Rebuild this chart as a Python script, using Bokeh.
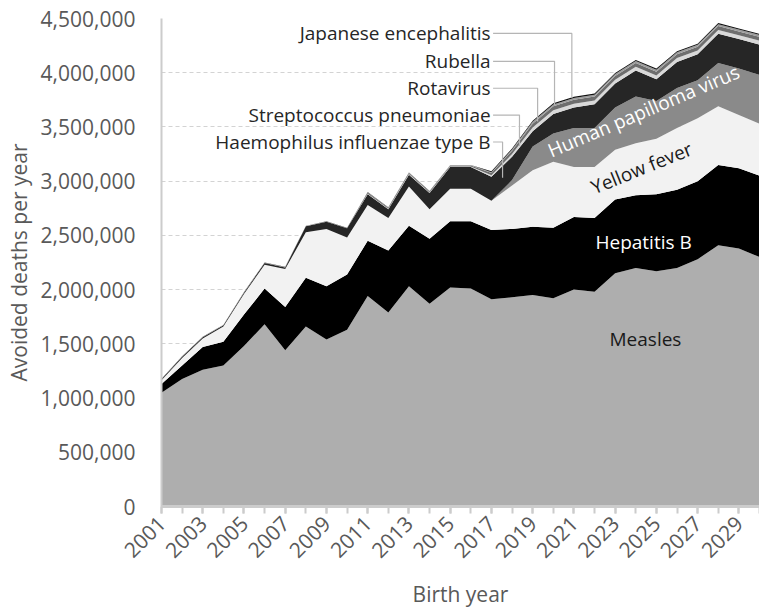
import math
import numpy as np
from bokeh.plotting import figure
from bokeh.models import Range1d, FixedTicker, NumeralTickFormatter, Label, ColumnDataSource
from bokeh.embed import file_html
from bokeh.resources import INLINE

# ---- data (thousands of avoided deaths per birth year) ----
years = list(range(2001, 2031))
measles = [1050, 1175, 1260, 1300, 1480, 1680, 1440, 1660, 1540, 1630, 1940, 1790, 2030, 1870, 2020,
           2010, 1910, 1930, 1950, 1920, 2000, 1980, 2150, 2200, 2170, 2200, 2280, 2410, 2380, 2300]
hepatitis_b = [80, 125, 210, 220, 290, 330, 400, 450, 490, 510, 510, 570, 560, 600, 610,
               620, 640, 630, 630, 650, 670, 680, 680, 670, 710, 720, 720, 740, 740, 750]
yellow_fever = [35, 70, 80, 140, 190, 220, 350, 420, 530, 340, 330, 300, 360, 270, 300,
                300, 270, 400, 520, 610, 460, 470, 460, 480, 510, 570, 580, 540, 490, 480]
hpv = [0, 0, 0, 0, 0, 0, 0, 0, 0, 0, 0, 0, 0, 0, 0,
       0, 0, 50, 220, 260, 360, 360, 390, 430, 350, 370, 350, 400, 430, 450]
hib = [8, 10, 10, 12, 12, 15, 15, 55, 65, 85, 100, 80, 110, 150, 200,
       200, 220, 215, 140, 180, 190, 220, 220, 240, 200, 240, 240, 270, 270, 280]
strep = [0, 0, 0, 0, 0, 0, 0, 0, 0, 0, 5, 5, 5, 5, 5,
         5, 15, 25, 35, 35, 35, 35, 35, 35, 35, 35, 35, 35, 35, 35]
rotavirus = [0, 0, 0, 0, 0, 0, 0, 0, 0, 0, 10, 10, 10, 10, 10,
             10, 20, 30, 35, 35, 35, 35, 35, 35, 35, 35, 35, 35, 35, 35]
rubella = [3, 3, 3, 3, 3, 3, 3, 3, 3, 3, 3, 3, 3, 3, 3,
           3, 8, 12, 18, 18, 18, 18, 18, 18, 18, 18, 18, 18, 18, 18]
japanese_enc = [2, 2, 2, 2, 2, 2, 2, 2, 2, 2, 2, 2, 2, 2, 2,
                2, 8, 10, 10, 10, 10, 10, 10, 10, 10, 10, 10, 10, 10, 10]

names = ["measles", "hepb", "yf", "hpv", "hib", "strep", "rota", "rubella", "je"]
series = [measles, hepatitis_b, yellow_fever, hpv, hib, strep, rotavirus, rubella, japanese_enc]
colors = ["#aeaeae", "#000000", "#f2f2f2", "#8a8a8a", "#262626", "#d9d9d9", "#6e6e6e", "#9c9c9c", "#111111"]

y_ticks = [0, 500000, 1000000, 1500000, 2000000, 2500000, 3000000, 3500000, 4000000, 4500000]
x_label_years = list(range(2001, 2031, 2))

inner_labels = ["Measles", "Hepatitis B", "Yellow fever", "Human papilloma virus"]
inner_x = [2024.47, 2024.38, 2024.28, 2024.38]
inner_y = [1543000, 2443000, 3122000, 3646000]
inner_angle_deg = [0, 0, 22, 23]
inner_colors = ["#1a1a1a", "#ffffff", "#1a1a1a", "#ffffff"]

leader_labels = ["Haemophilus influenzae type B", "Streptococcus pneumoniae", "Rotavirus",
                 "Rubella", "Japanese encephalitis"]
leader_series = ["hib", "strep", "rota", "rubella", "je"]
leader_text_y = [3361000, 3609000, 3857000, 4105000, 4362000]
leader_year = [2017.54, 2018.36, 2019.24, 2020.06, 2020.9]
leader_text_x = 2016.96

FONT = "Open Sans"
GREY_TEXT = "#595959"

data = {"year": years}
for n, s in zip(names, series):
    data[n] = [v * 1000 for v in s]
source = ColumnDataSource(data)

p = figure(width=759, height=610, x_range=Range1d(2001, 2030), y_range=Range1d(0, 4500000),
           output_backend="svg", toolbar_location=None,
           min_border_left=161, min_border_right=0, min_border_top=18, min_border_bottom=102)
p.outline_line_color = None
p.background_fill_color = "white"

p.varea_stack(stackers=names, x="year", color=colors, source=source)

# grid
p.xgrid.visible = False
p.ygrid.ticker = FixedTicker(ticks=y_ticks)
p.ygrid.grid_line_color = "#d3d3d3"
p.ygrid.grid_line_dash = "4 3"
p.ygrid.grid_line_width = 1

# y axis
ya = p.yaxis[0]
ya.ticker = FixedTicker(ticks=y_ticks)
ya.formatter = NumeralTickFormatter(format="0,0")
ya.axis_line_color = "#cccccc"
ya.axis_line_width = 2
ya.major_tick_line_color = None
ya.minor_tick_line_color = None
ya.major_label_text_font = FONT
ya.major_label_text_font_size = "21px"
ya.major_label_text_color = GREY_TEXT
ya.major_label_standoff = 20
ya.axis_label = "Avoided deaths per year"
ya.axis_label_text_font = FONT
ya.axis_label_text_font_size = "21px"
ya.axis_label_text_font_style = "normal"
ya.axis_label_text_color = GREY_TEXT
ya.axis_label_standoff = 5

# x axis
xa = p.xaxis[0]
xa.ticker = FixedTicker(ticks=x_label_years, minor_ticks=years)
xa.axis_line_color = "#cccccc"
xa.axis_line_width = 3
xa.major_tick_line_color = "#cccccc"
xa.minor_tick_line_color = "#cccccc"
xa.major_tick_line_width = 2
xa.minor_tick_line_width = 2
xa.major_tick_in = 0
xa.major_tick_out = 7
xa.minor_tick_in = 0
xa.minor_tick_out = 7
xa.major_label_orientation = math.pi / 4
xa.major_label_text_font = FONT
xa.major_label_text_font_size = "21px"
xa.major_label_text_color = GREY_TEXT
xa.major_label_standoff = 6
xa.axis_label = "Birth year"
xa.axis_label_text_font = FONT
xa.axis_label_text_font_size = "21px"
xa.axis_label_text_font_style = "normal"
xa.axis_label_text_color = GREY_TEXT
xa.axis_label_standoff = 12

# inner labels
for t, x, y, a, c in zip(inner_labels, inner_x, inner_y, inner_angle_deg, inner_colors):
    p.add_layout(Label(x=x, y=y, text=t, angle=math.radians(a), text_align="center",
                       text_baseline="middle", text_font=FONT, text_font_size="19px",
                       text_color=c))

# cumulative stacks for leader end-points
arr = np.array([[v * 1000 for v in s] for s in series], dtype=float)
cum = np.cumsum(arr, axis=0)
yrs = np.array(years, dtype=float)

for t, sname, ty, ly in zip(leader_labels, leader_series, leader_text_y, leader_year):
    idx = names.index(sname)
    top = np.interp(ly, yrs, cum[idx])
    bottom = np.interp(ly, yrs, cum[idx - 1])
    yend = (top + bottom) / 2.0
    p.line([leader_text_x + 0.12, ly, ly], [ty, ty, yend], line_color="#b5b5b5", line_width=1.2)
    p.add_layout(Label(x=leader_text_x, y=ty, text=t, text_align="right", text_baseline="middle",
                       text_font=FONT, text_font_size="19px", text_color="#262626"))

open("out.html", "w").write(file_html(p, INLINE))
